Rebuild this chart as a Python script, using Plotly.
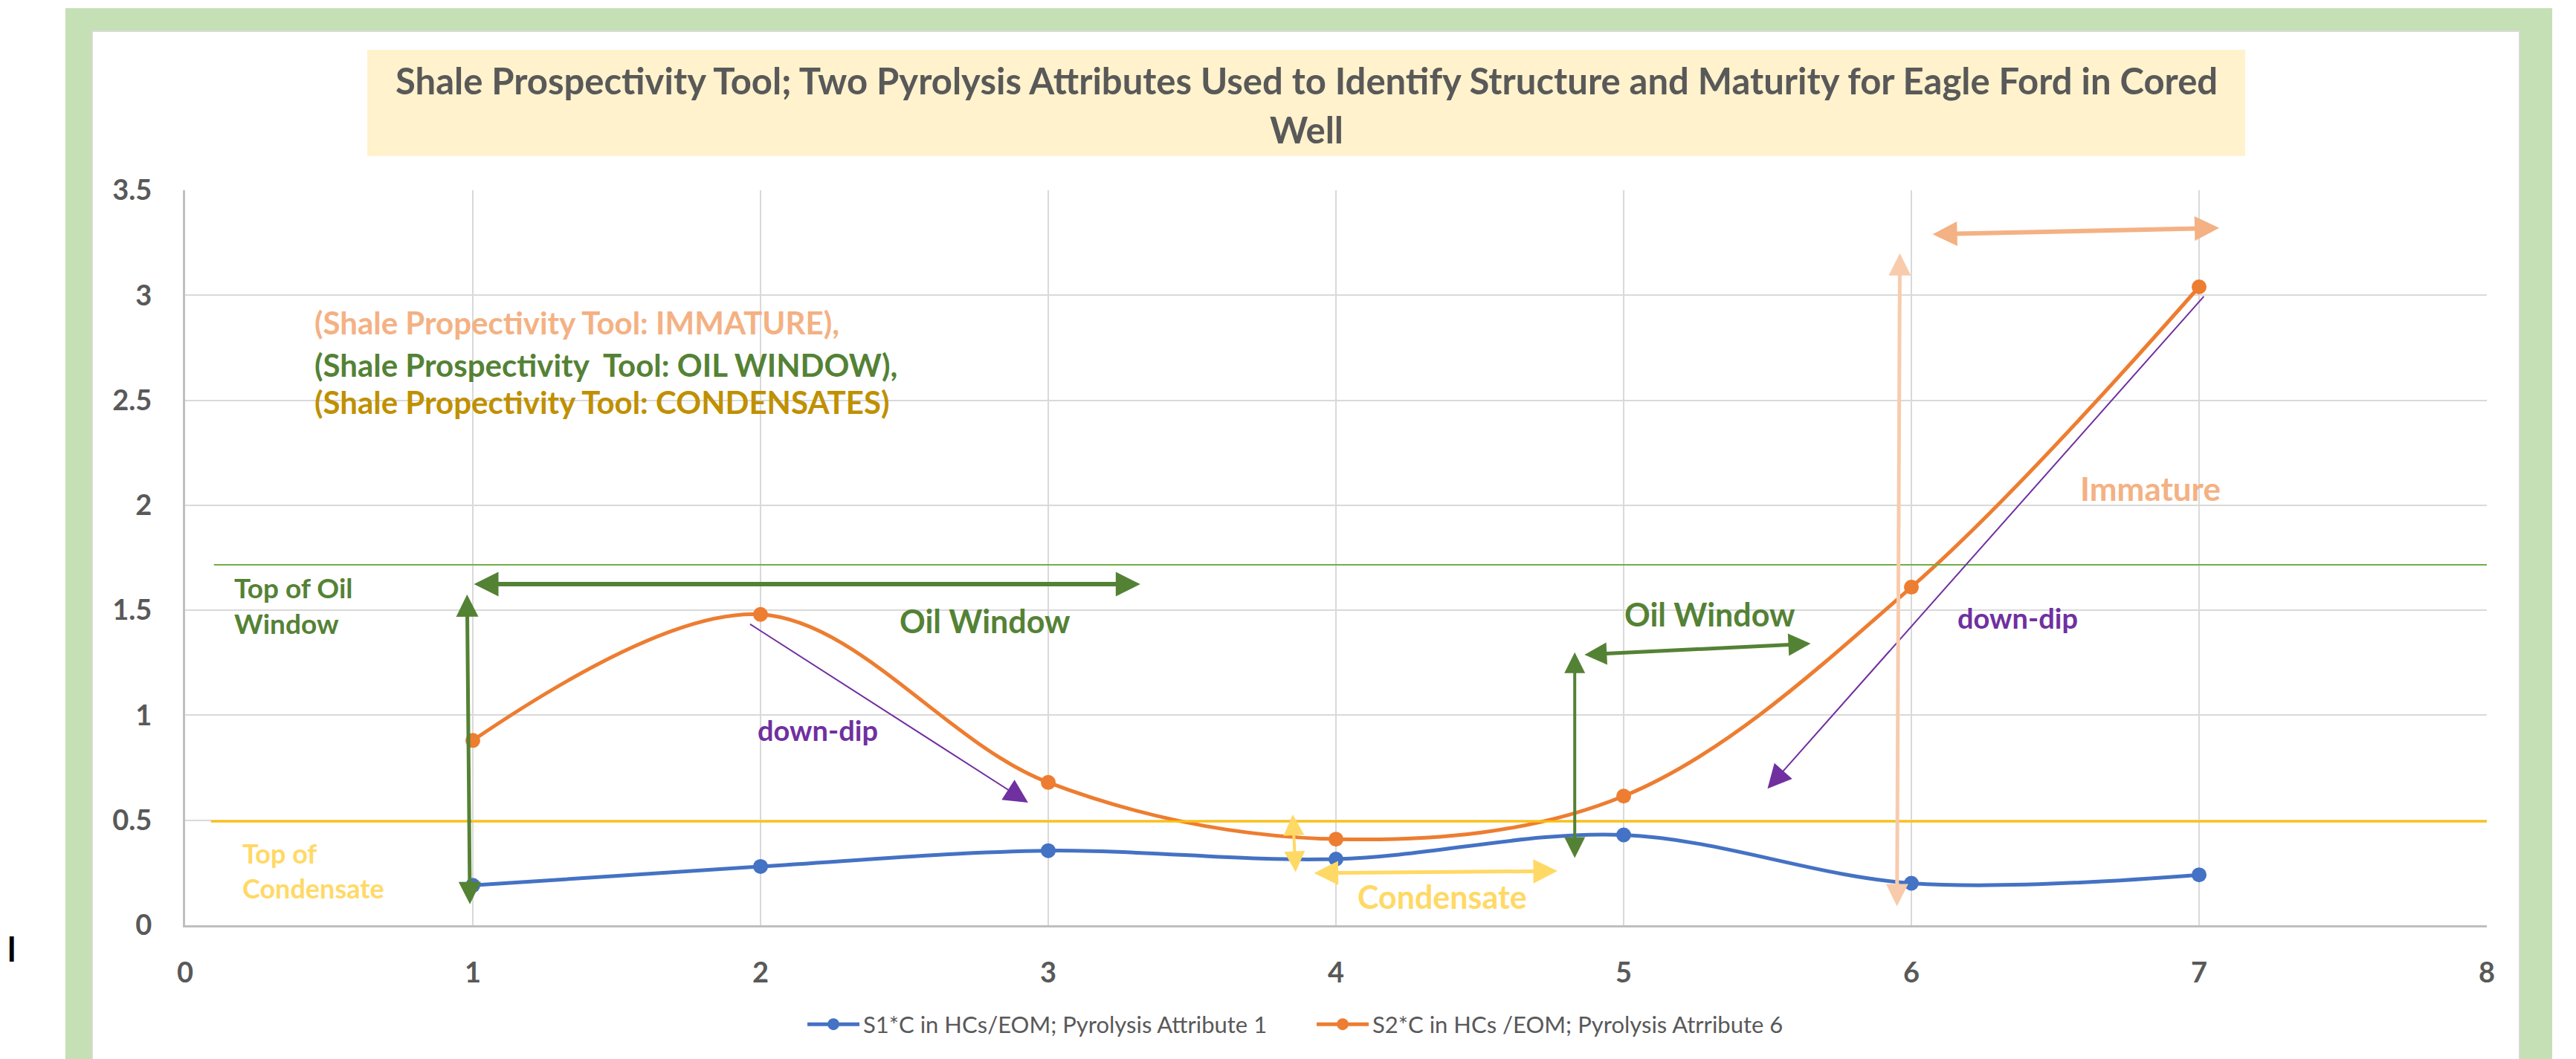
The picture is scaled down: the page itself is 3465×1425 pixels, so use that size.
import plotly.graph_objects as go

# Data
sample_x = [1, 2, 3, 4, 5, 6, 7]
s1_values = [0.19, 0.28, 0.355, 0.315, 0.43, 0.20, 0.24]
s2_values = [0.88, 1.48, 0.68, 0.41, 0.615, 1.61, 3.04]
top_oil_window = 1.716
top_condensate = 0.495
x_ticks = [0, 1, 2, 3, 4, 5, 6, 7, 8]
y_ticks = [0, 0.5, 1, 1.5, 2, 2.5, 3, 3.5]

s1_name = "S1*C in HCs/EOM; Pyrolysis Attribute 1"
s2_name = "S2*C in HCs /EOM; Pyrolysis Atrribute 6"
title_1 = ("Shale Prospectivity Tool; Two Pyrolysis Attributes Used to Identify "
           "Structure and Maturity for Eagle Ford in Cored")
title_2 = "Well"

W, H = 3465, 1425
L, R, T, B = 241, 128, 248, 188
FONT = "Lato"
GRAY = "#595959"


# pixel -> paper helpers (for the frame outside the plot area)
def px(v):
    return (v - L) / (W - L - R)


def py(v):
    return (H - B - v) / (H - T - B)


fig = go.Figure()

fig.add_trace(go.Scatter(
    x=sample_x, y=s1_values, name=s1_name, mode="lines+markers",
    line=dict(color="#4472C4", width=5, shape="spline", smoothing=1),
    marker=dict(size=20, color="#4472C4"),
))
fig.add_trace(go.Scatter(
    x=sample_x, y=s2_values, name=s2_name, mode="lines+markers",
    line=dict(color="#ED7D31", width=5, shape="spline", smoothing=1),
    marker=dict(size=20, color="#ED7D31"),
))

shapes = [
    # green frame and white panel
    dict(type="rect", xref="paper", yref="paper", x0=px(80), x1=px(3425), y0=py(H), y1=py(3),
         fillcolor="#C5E0B4", line=dict(width=0), layer="below"),
    dict(type="rect", xref="paper", yref="paper", x0=px(116), x1=px(3381), y0=py(H + 5), y1=py(34),
         fillcolor="white", line=dict(color="#D9D9D9", width=2), layer="below"),
    # title box
    dict(type="rect", xref="paper", yref="paper", x0=px(486), x1=px(3012), y0=py(202), y1=py(59),
         fillcolor="#FFF2CC", line=dict(width=0), layer="below"),
    # top of oil window / top of condensate
    dict(type="line", xref="x", yref="y", x0=0.1, x1=8, y0=top_oil_window, y1=top_oil_window,
         line=dict(color="#70AD47", width=2)),
    dict(type="line", xref="x", yref="y", x0=0.09, x1=8, y0=top_condensate, y1=top_condensate,
         line=dict(color="#FFC000", width=3)),
]

ann = []


def arrow(x0, y0, x1, y1, color, width, size, both=True):
    ann.append(dict(
        x=x1, y=y1, ax=x0, ay=y0, xref="x", yref="y", axref="x", ayref="y",
        text="", showarrow=True, arrowhead=2, startarrowhead=2,
        arrowside="end+start" if both else "end",
        arrowsize=size, startarrowsize=size, arrowwidth=width, arrowcolor=color,
        standoff=0, startstandoff=0,
    ))


def label(x, y, text, color, size, xanchor="center", bold=True):
    ann.append(dict(
        x=x, y=y, xref="x", yref="y", text=f"<b>{text}</b>" if bold else text,
        showarrow=False, xanchor=xanchor, yanchor="middle", align="left",
        font=dict(family=FONT, size=size, color=color),
    ))


# oil window arrows (left)
arrow(0.99, 0.095, 0.98, 1.575, "#548235", 5, 1.2)
arrow(1.0, 1.624, 3.32, 1.624, "#548235", 6, 1.1)
label(2.78, 1.45, "Oil Window", "#548235", 43)
# down-dip (left)
arrow(1.96, 1.437, 2.93, 0.584, "#7030A0", 2, 3.2, both=False)
label(2.20, 0.93, "down-dip", "#7030A0", 38)
# condensate arrows
arrow(3.86, 0.248, 3.85, 0.527, "#FFD966", 4, 1.4)
arrow(3.92, 0.248, 4.77, 0.258, "#FFD966", 5, 1.3)
label(4.37, 0.135, "Condensate", "#FFD966", 43)
# oil window arrows (right)
arrow(4.83, 0.315, 4.83, 1.30, "#548235", 4, 1.4)
arrow(4.86, 1.288, 5.65, 1.341, "#548235", 5, 1.2)
label(5.30, 1.48, "Oil Window", "#548235", 43)
# down-dip (right)
arrow(7.02, 3.0, 5.50, 0.65, "#7030A0", 2, 3.2, both=False)
label(6.37, 1.465, "down-dip", "#7030A0", 38)
# immature arrows
arrow(5.95, 0.085, 5.96, 3.20, "#F8CBAD", 5, 1.2)
arrow(6.07, 3.29, 7.07, 3.32, "#F4B183", 6, 1.1)
label(6.83, 2.08, "Immature", "#F4B183", 44)

# legend-like text block
label(0.445, 2.87, "(Shale Propectivity Tool: IMMATURE),", "#F4B183", 42, xanchor="left")
label(0.445, 2.67, "(Shale Prospectivity  Tool: OIL WINDOW),", "#548235", 42, xanchor="left")
label(0.445, 2.49, "(Shale Propectivity Tool: CONDENSATES)", "#BF9000", 42, xanchor="left")

# boundary labels
label(0.165, 1.525, "Top of Oil<br>Window", "#548235", 37, xanchor="left")
label(0.195, 0.26, "Top of<br>Condensate", "#FFD966", 36, xanchor="left")

# title
ann.append(dict(x=px(1749), y=py(100), xref="paper", yref="paper", showarrow=False,
                xanchor="center", yanchor="middle",
                text=f"<b>{title_1}</b>", font=dict(family=FONT, size=49, color=GRAY)))
ann.append(dict(x=px(1749), y=py(166), xref="paper", yref="paper", showarrow=False,
                xanchor="center", yanchor="middle",
                text=f"<b>{title_2}</b>", font=dict(family=FONT, size=49, color=GRAY)))
# stray glyph at the left edge
ann.append(dict(x=px(0), y=py(1268), xref="paper", yref="paper", showarrow=False,
                xanchor="left", yanchor="middle", text="<b>l</b>",
                font=dict(family=FONT, size=46, color="black")))

fig.update_layout(
    width=W, height=H,
    margin=dict(l=L, r=R, t=T, b=B),
    paper_bgcolor="white", plot_bgcolor="white",
    shapes=shapes, annotations=ann,
    font=dict(family=FONT, color=GRAY),
    legend=dict(orientation="h", x=0.49, xanchor="center", y=-0.135, yanchor="middle",
                font=dict(family=FONT, size=31, color=GRAY), itemwidth=70,
                entrywidth=600, entrywidthmode="pixels", bgcolor="rgba(0,0,0,0)"),
)
fig.update_xaxes(
    range=[0, 8], tickvals=x_ticks, ticktext=[f"<b>{v}</b>" for v in x_ticks],
    showgrid=True, gridcolor="#D9D9D9", gridwidth=2,
    showline=True, linecolor="#BFBFBF", linewidth=3, zeroline=False,
    ticks="", ticklabelstandoff=28, tickfont=dict(family=FONT, size=38, color=GRAY),
)
fig.update_yaxes(
    range=[0, 3.5], tickvals=y_ticks, ticktext=[f"<b>{v:g}</b>" for v in y_ticks],
    showgrid=True, gridcolor="#D9D9D9", gridwidth=2,
    showline=True, linecolor="#BFBFBF", linewidth=3, zeroline=False,
    ticks="", ticklabelstandoff=34, tickfont=dict(family=FONT, size=38, color=GRAY),
)

fig.write_html("out.html")
